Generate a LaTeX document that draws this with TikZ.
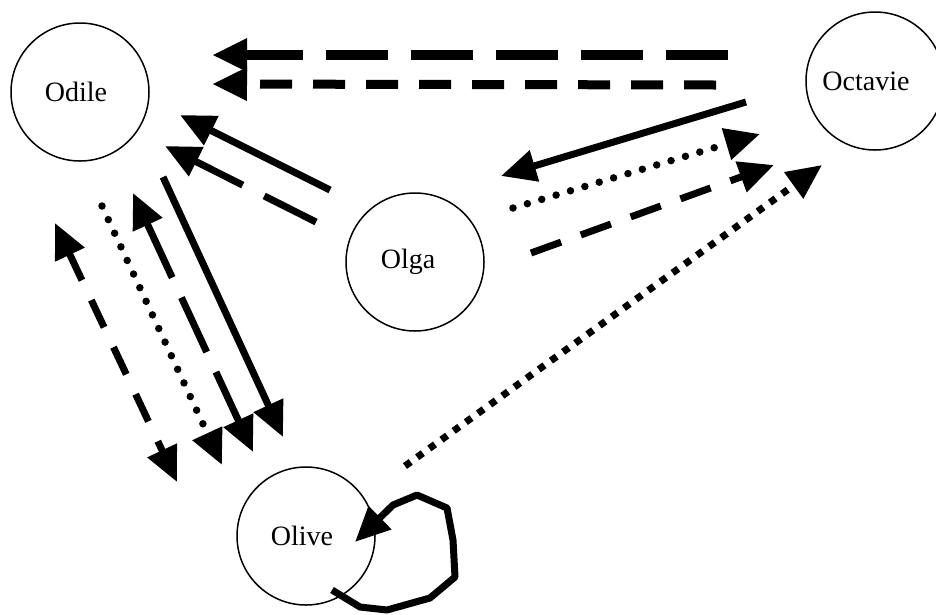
\documentclass[tikz,border=0pt]{standalone}
\usepackage{fontspec}
\setmainfont{Liberation Serif}
\usetikzlibrary{arrows.meta}
\begin{document}
\begin{tikzpicture}[x=1pt,y=-1pt,
  person/.style={circle,draw,line width=1.5pt,minimum size=138pt,inner sep=0pt},
  pname/.style={font=\fontsize{28}{32}\selectfont,inner sep=0pt},
  tip/.style={-{Triangle[length=35pt,width=31pt]}},
  bitip/.style={{Triangle[length=35pt,width=31pt]}-{Triangle[length=35pt,width=31pt]}},
  solidline/.style={line width=7pt},
  longdash/.style={line width=9.5pt,dash pattern=on 62pt off 23pt},
  shortdash/.style={line width=9pt,dash pattern=on 32pt off 21pt},
  middash/.style={line width=7pt,dash pattern=on 58pt off 24pt},
  smalldash/.style={line width=7pt,dash pattern=on 32pt off 21pt},
  roundedots/.style={line width=7.5pt,line cap=round,dash pattern=on 0pt off 15pt},
  squaredots/.style={line width=7pt,dash pattern=on 7pt off 8pt},
  leftshort/.style={line width=7pt,dash pattern=on 30pt off 22pt},
  leftlong/.style={line width=7pt,dash pattern=on 60pt off 22pt},
  loopline/.style={line width=7pt,line join=round}
]
\useasboundingbox (0,0) rectangle (936,614);

% people
\node[person,label={[pname,xshift=-4pt]center:Odile}] (Odile) at (80,92) {};
\node[person,label={[pname,xshift=-9pt]center:Octavie}] (Octavie) at (875,81) {};
\node[person,label={[pname,xshift=-7pt]center:Olga}] (Olga) at (415,262) {};
\node[person,label={[pname,xshift=-4pt]center:Olive}] (Olive) at (306,536) {};

% free ends of the connectors
\coordinate (o1s) at (728,55);  \coordinate (o1e) at (212,55);
\coordinate (o2s) at (716,85);  \coordinate (o2e) at (212,84);
\coordinate (g1s) at (330,190); \coordinate (g1e) at (180,115);
\coordinate (g2s) at (316,222); \coordinate (g2e) at (165,146);
\coordinate (c1s) at (746,102); \coordinate (c1e) at (501,176);
\coordinate (g3s) at (513,208); \coordinate (g3e) at (760,134);
\coordinate (g4s) at (531,253); \coordinate (g4e) at (774,165);
\coordinate (v1s) at (405,466); \coordinate (v1e) at (822,165);
\coordinate (la1) at (55,223);  \coordinate (la2) at (177,482);
\coordinate (lb1) at (102,206); \coordinate (lb2) at (222,465);
\coordinate (lc1) at (133,193); \coordinate (lc2) at (253,452);
\coordinate (ld1) at (163,177); \coordinate (ld2) at (283,437);
\coordinate (lp0) at (332,590); \coordinate (lp1) at (355,542);

% Octavie -> Odile
\draw[tip,longdash] (o1s) -- (o1e);
\draw[tip,shortdash] (o2s) -- (o2e);
% Olga -> Odile
\draw[tip,solidline] (g1s) -- (g1e);
\draw[tip,middash] (g2s) -- (g2e);
% Octavie -> Olga, Olga -> Octavie
\draw[tip,solidline] (c1s) -- (c1e);
\draw[tip,roundedots] (g3s) -- (g3e);
\draw[tip,smalldash] (g4s) -- (g4e);
% Olive -> Octavie
\draw[tip,squaredots] (v1s) -- (v1e);
% Odile <-> Olive
\draw[bitip,leftshort] (la1) -- (la2);
\draw[tip,roundedots] (lb1) -- (lb2);
\draw[bitip,leftlong] (lc1) -- (lc2);
\draw[tip,solidline] (ld1) -- (ld2);
% Olive self loop
\draw[tip,loopline] (lp0) -- (360,607) -- (387,610) -- (430,598) -- (455,577)
  -- (453,540) -- (447,508) -- (417,495) -- (393,505) -- (lp1);
\end{tikzpicture}
\end{document}
